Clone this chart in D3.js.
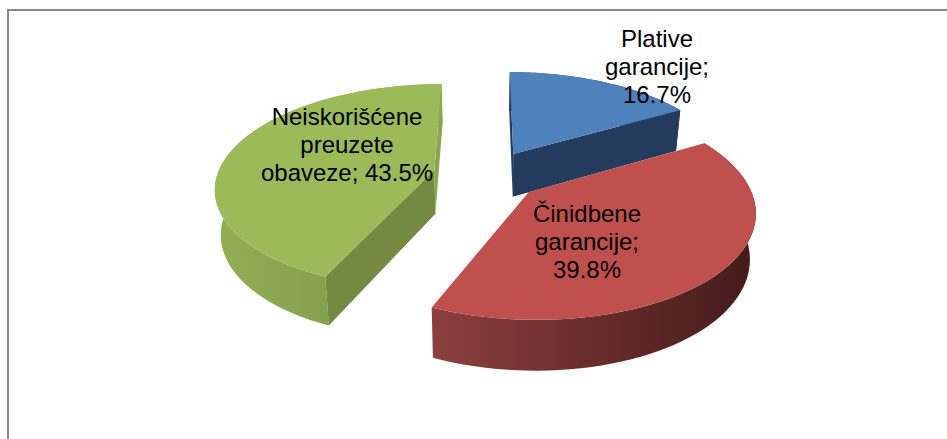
<!DOCTYPE html>
<html>
<head>
<meta charset="utf-8">
<script src="https://cdn.jsdelivr.net/npm/d3@7"></script>
<style>
  html, body { margin: 0; padding: 0; background: #fff; overflow: hidden; }
  text { font-family: "Liberation Sans", Arial, sans-serif; fill: #000; }
</style>
</head>
<body>
<svg id="chart" width="947" height="439"></svg>
<script>
var categories = ['Plative garancije', 'Činidbene garancije', 'Neiskorišćene preuzete obaveze'];
var values = [16.7, 39.8, 43.5];
var labelLines = [
  ['Plative', 'garancije;', '16.7%'],
  ['Činidbene', 'garancije;', '39.8%'],
  ['Neiskorišćene', 'preuzete', 'obaveze; 43.5%']
];
var topColors = ['#4f81bd', '#c0504d', '#9bbb59'];
var startWallColors = ['#243b5e', '#4a1d1c', '#748a42'];
var endWallColors = ['#243b5e', '#4a1d1c', '#8ba650'];
var sideColors = [['#2a4468', '#1f3350'], ['#8c3f3d', '#441b1a'], ['#92ae55', '#7a9346']];
var labelPos = [[657, 47], [587, 222], [347, 125]];

var cx = 487, cy = 175;
var Rx = 217, Ry = 101, persp = 0.16, explode = 0.25;
var lineGap = 28;

var svg = d3.select('#chart');
var defs = svg.append('defs');

// plane coords -> screen, z = 0 top face, z = 1 bottom face
function project(X, Y, z) {
  var s = 1 / (1 + persp * Y);
  var x = Rx * X * s;
  var y = -Ry * Y * s;
  if (z) {
    x = x * 0.978;
    y = y + 44 * Math.pow(s, 0.7);
  }
  return [cx + x, cy + y];
}

var pie = d3.pie().sort(null).value(function(d) { return d; });
var arcs = pie(values);

function arcPoints(d, z) {
  var mid = (d.startAngle + d.endAngle) / 2;
  var ox = explode * Math.sin(mid), oy = explode * Math.cos(mid);
  var n = 60;
  return d3.range(n + 1).map(function(i) {
    var a = d.startAngle + (d.endAngle - d.startAngle) * i / n;
    return project(ox + Math.sin(a), oy + Math.cos(a), z);
  });
}

function apex(d, z) {
  var mid = (d.startAngle + d.endAngle) / 2;
  return project(explode * Math.sin(mid), explode * Math.cos(mid), z);
}

var line = d3.line().curve(d3.curveLinear);

// blue first, then green, red last since it sits in front
[0, 2, 1].forEach(function(i) {
  var d = arcs[i];
  var top = arcPoints(d, 0);
  var bottom = arcPoints(d, 1);
  var a0 = apex(d, 0), a1 = apex(d, 1);
  var g = svg.append('g').attr('class', 'slice');

  var grad = defs.append('linearGradient')
    .attr('id', 'side' + i)
    .attr('gradientUnits', 'userSpaceOnUse')
    .attr('x1', d3.min(top, function(p) { return p[0]; }))
    .attr('x2', d3.max(top, function(p) { return p[0]; }))
    .attr('y1', 0).attr('y2', 0);
  grad.append('stop').attr('offset', 0).attr('stop-color', sideColors[i][0]);
  grad.append('stop').attr('offset', 1).attr('stop-color', sideColors[i][1]);

  // curved wall
  g.append('path')
    .attr('d', line(top.concat(bottom.slice().reverse())) + 'Z')
    .attr('fill', 'url(#side' + i + ')');

  // radial walls, only the ones turned toward the viewer
  var startWall = [a0, top[0], bottom[0], a1];
  var endWall = [a0, top[top.length - 1], bottom[bottom.length - 1], a1];
  if (d3.polygonArea(startWall) > 0) {
    g.append('path').attr('d', line(startWall) + 'Z').attr('fill', startWallColors[i]);
  }
  if (d3.polygonArea(endWall) < 0) {
    g.append('path').attr('d', line(endWall) + 'Z').attr('fill', endWallColors[i]);
  }

  // top
  g.append('path')
    .attr('d', line([a0].concat(top)) + 'Z')
    .attr('fill', topColors[i]);
});

// frame, open on the right and bottom like the cropped original
svg.append('path')
  .attr('d', 'M8,439V10H947')
  .attr('fill', 'none')
  .attr('stroke', '#8a8a8a')
  .attr('stroke-width', 2);

labelLines.forEach(function(lines, i) {
  var t = svg.append('text')
    .attr('text-anchor', 'middle')
    .attr('font-size', 24);
  lines.forEach(function(txt, j) {
    t.append('tspan')
      .attr('x', labelPos[i][0])
      .attr('y', labelPos[i][1] + j * lineGap)
      .text(txt);
  });
});
</script>
</body>
</html>
